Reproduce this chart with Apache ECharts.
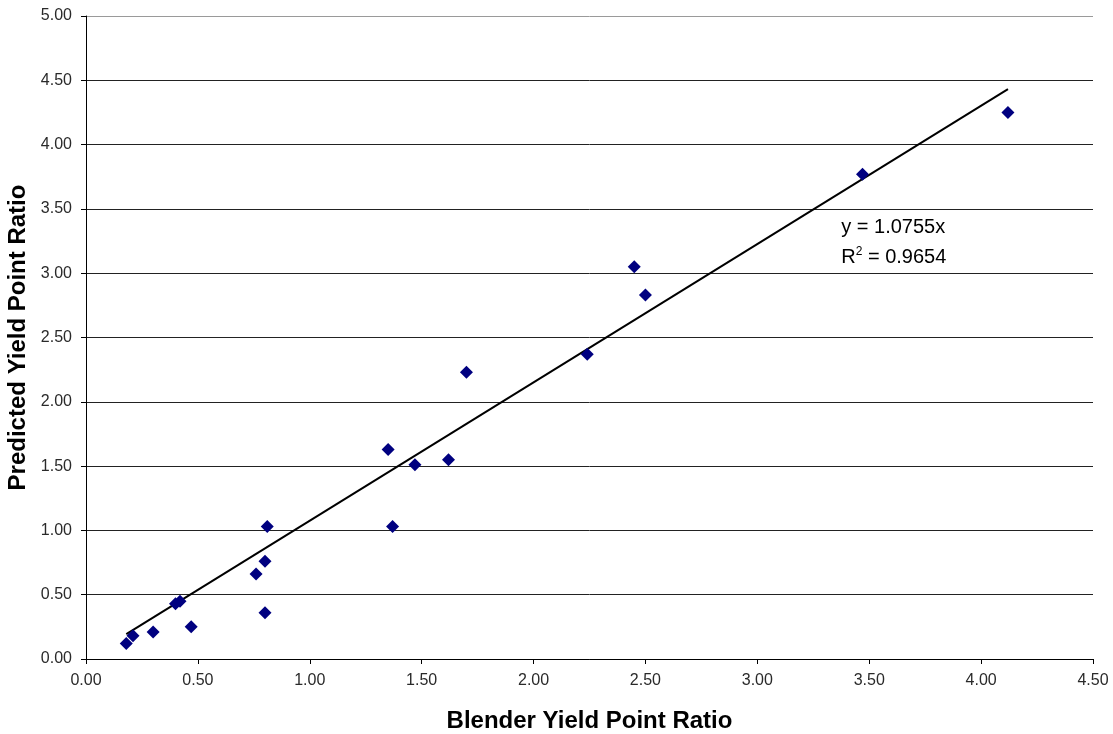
<!DOCTYPE html>
<html>
<head>
<meta charset="utf-8">
<title>Predicted vs Blender Yield Point Ratio</title>
<script src="https://cdn.jsdelivr.net/npm/echarts@6/dist/echarts.min.js"></script>
<style>
  html, body { margin: 0; padding: 0; background: #fff; }
  #chart { width: 1113px; height: 734px; }
</style>
</head>
<body>
<div id="chart"></div>
<script>
// Measured yield point ratios
const blenderRatio = [0.18, 0.21, 0.30, 0.40, 0.42, 0.47, 0.76, 0.80, 0.80, 0.81,
                      1.35, 1.37, 1.47, 1.62, 1.70, 2.24, 2.45, 2.50, 3.47, 4.12];
const predictedRatio = [0.12, 0.18, 0.21, 0.43, 0.45, 0.25, 0.66, 0.76, 0.36, 1.03,
                        1.63, 1.03, 1.51, 1.55, 2.23, 2.37, 3.05, 2.83, 3.77, 4.25];

// Linear trend through the origin
const trendSlope = 1.0755;
const trendR2 = 0.9654;

const xTicks = ['0.00','0.50','1.00','1.50','2.00','2.50','3.00','3.50','4.00','4.50'];
const yTicks = ['0.00','0.50','1.00','1.50','2.00','2.50','3.00','3.50','4.00','4.50','5.00'];

const points = blenderRatio.map((x, i) => [x, predictedRatio[i]]);
const xMin = Math.min(...blenderRatio);
const xMax = Math.max(...blenderRatio);
const trend = [[xMin, trendSlope * xMin], [xMax, trendSlope * xMax]];

const FONT = '"Liberation Sans", Arial, sans-serif';

// Horizontal grid: dark lines, light top border
const yGridColors = yTicks.map((t, i) => i === yTicks.length - 1 ? '#9a9a9a' : '#222');
// Vertical: only the right border of the plot area
const xGridColors = xTicks.map((t, i) => i === xTicks.length - 1 ? '#9a9a9a' : 'rgba(0,0,0,0)');

const chart = echarts.init(document.getElementById('chart'));
chart.setOption({
  animation: false,
  backgroundColor: '#fff',
  grid: { left: 86, right: 20, top: 16, bottom: 75, containLabel: false, outerBoundsMode: 'none' },
  xAxis: {
    type: 'value', min: 0, max: 4.5, interval: 0.5,
    axisLine: { show: true, onZero: false, lineStyle: { color: '#000', width: 1 } },
    axisTick: { show: true, length: 5, lineStyle: { color: '#000' } },
    axisLabel: {
      color: '#2a2a2a', fontFamily: FONT, fontSize: 16, margin: 14,
      formatter: (v) => xTicks[Math.round(v / 0.5)]
    },
    splitLine: { show: true, showMinLine: false, lineStyle: { color: xGridColors, width: 1 } },
    name: 'Blender Yield Point Ratio',
    nameLocation: 'middle', nameGap: 50,
    nameTextStyle: { color: '#000', fontFamily: FONT, fontSize: 24, fontWeight: 'bold' }
  },
  yAxis: {
    type: 'value', min: 0, max: 5, interval: 0.5,
    axisLine: { show: true, onZero: false, lineStyle: { color: '#000', width: 1 } },
    axisTick: { show: true, length: 5, lineStyle: { color: '#000' } },
    axisLabel: {
      color: '#2a2a2a', fontFamily: FONT, fontSize: 16, margin: 14,
      formatter: (v) => yTicks[Math.round(v / 0.5)]
    },
    splitLine: { show: true, lineStyle: { color: yGridColors, width: 1 } },
    name: 'Predicted Yield Point Ratio',
    nameLocation: 'middle', nameGap: 46, nameRotate: 90,
    nameTextStyle: { color: '#000', fontFamily: FONT, fontSize: 24, fontWeight: 'bold' }
  },
  series: [
    {
      name: 'Trend', type: 'line', data: trend,
      symbol: 'none', lineStyle: { color: '#000', width: 2 }, z: 2
    },
    {
      name: 'Ratio', type: 'scatter', data: points,
      symbol: 'diamond', symbolSize: 13,
      itemStyle: { color: '#000080', opacity: 1 }, z: 3
    }
  ]
});

// Trend equation annotation, anchored in data space
const anchor = chart.convertToPixel({ gridIndex: 0 }, [3.375, 3.37]);
chart.setOption({
  graphic: [
    {
      type: 'text', left: anchor[0], top: anchor[1] - 8,
      style: { text: 'y = ' + trendSlope.toFixed(4) + 'x', font: '20px ' + FONT, fill: '#000' }
    },
    {
      type: 'text', left: anchor[0], top: anchor[1] + 20,
      style: {
        text: '{r|R}{s|2}{r| = ' + trendR2.toFixed(4) + '}',
        rich: {
          r: { fontSize: 20, fontFamily: FONT, fill: '#000', lineHeight: 24 },
          s: { fontSize: 12, fontFamily: FONT, fill: '#000', lineHeight: 24, verticalAlign: 'top' }
        }
      }
    }
  ]
});
</script>
</body>
</html>
